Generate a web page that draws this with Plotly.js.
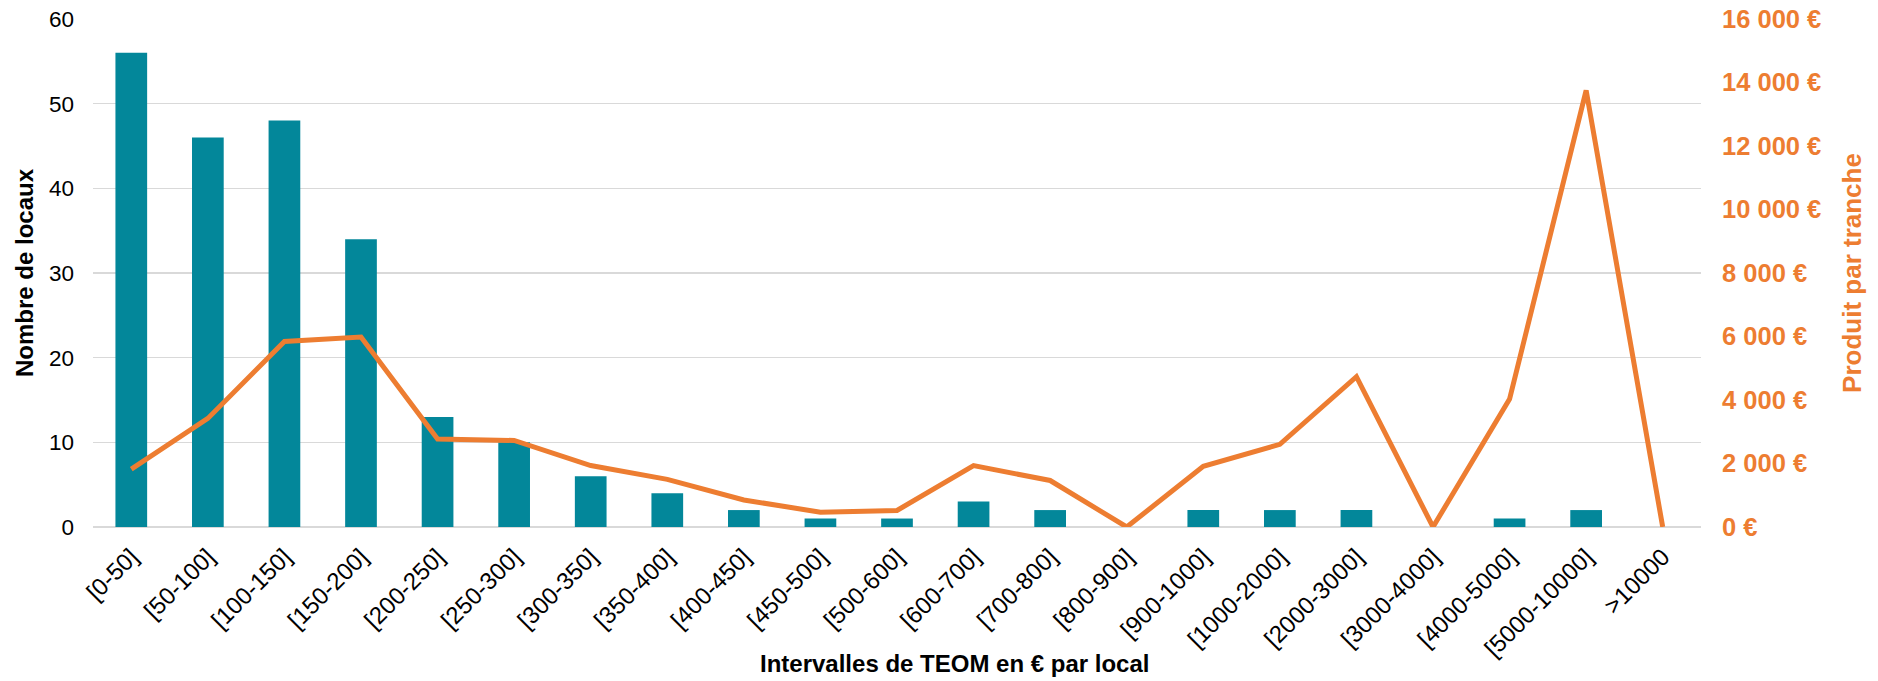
<!DOCTYPE html>
<html>
<head>
<meta charset="utf-8">
<script src="https://cdn.plot.ly/plotly-3.0.1.min.js"></script>
<style>
  html, body { margin: 0; padding: 0; background: #ffffff; }
  #chart { width: 1878px; height: 681px; }
</style>
</head>
<body>
<div id="chart"></div>
<script>
const categories = ["[0-50]", "[50-100]", "[100-150]", "[150-200]", "[200-250]", "[250-300]", "[300-350]", "[350-400]", "[400-450]", "[450-500]", "[500-600]", "[600-700]", "[700-800]", "[800-900]", "[900-1000]", "[1000-2000]", "[2000-3000]", "[3000-4000]", "[4000-5000]", "[5000-10000]", ">10000"];
const nombreLocaux = [56, 46, 48, 34, 13, 10, 6, 4, 2, 1, 1, 3, 2, 0, 2, 2, 2, 0, 1, 2, 0];
const produitParTranche = [1825, 3420, 5845, 5985, 2770, 2725, 1935, 1500, 850, 467, 520, 1935, 1465, 0, 1910, 2605, 4735, 0, 4030, 13750, 0];

const FONT = "Liberation Sans, Arial, sans-serif";
const TEAL = "#03879A";
const ORANGE = "#ED7D31";

const traces = [
  {
    type: "bar",
    name: "Nombre de locaux",
    x: categories,
    y: nombreLocaux,
    marker: { color: TEAL },
    yaxis: "y",
    hoverinfo: "x+y"
  },
  {
    type: "scatter",
    mode: "lines",
    name: "Produit par tranche",
    x: categories,
    y: produitParTranche,
    line: { color: ORANGE, width: 5 },
    yaxis: "y2",
    hoverinfo: "x+y"
  }
];

const layout = {
  width: 1878,
  height: 681,
  margin: { l: 93, r: 177, t: 19, b: 154 },
  paper_bgcolor: "#ffffff",
  plot_bgcolor: "#ffffff",
  showlegend: false,
  separators: ", ",
  bargap: 0.586,
  font: { family: FONT, color: "#000000" },
  xaxis: {
    type: "category",
    tickangle: -45,
    tickfont: { family: FONT, size: 24, color: "#000000" },
    showgrid: false,
    showline: false,
    zeroline: false,
    ticks: "",
    ticklabelstandoff: 10,
    automargin: false
  },
  yaxis: {
    range: [0, 60],
    dtick: 10,
    tick0: 0,
    showgrid: true,
    gridcolor: "#D9D9D9",
    gridwidth: 1.5,
    zeroline: true,
    zerolinecolor: "#D9D9D9",
    zerolinewidth: 1.5,
    showline: false,
    ticks: "",
    ticklabelstandoff: 18,
    tickfont: { family: FONT, size: 22.5, color: "#000000" },
    title: {
      text: "Nombre de locaux",
      font: { family: FONT, size: 24, color: "#000000", weight: "bold" },
      standoff: 8
    },
    automargin: false
  },
  yaxis2: {
    overlaying: "y",
    side: "right",
    range: [0, 16000],
    dtick: 2000,
    tick0: 0,
    tickformat: ",.0f",
    ticksuffix: " €",
    showgrid: false,
    zeroline: false,
    showline: false,
    ticks: "",
    ticklabelstandoff: 20,
    tickfont: { family: FONT, size: 25.5, color: ORANGE, weight: "bold" },
    title: {
      text: "Produit par tranche",
      font: { family: FONT, size: 26, color: ORANGE, weight: "bold" },
      standoff: 22
    },
    automargin: false
  },
  annotations: [
    {
      text: "Intervalles de TEOM en € par local",
      xref: "paper",
      yref: "paper",
      x: 0.536,
      y: -0.268,
      xanchor: "center",
      yanchor: "middle",
      showarrow: false,
      font: { family: FONT, size: 24, color: "#000000", weight: "bold" }
    }
  ]
};

Plotly.newPlot("chart", traces, layout, { displayModeBar: false, staticPlot: true });
</script>
</body>
</html>
